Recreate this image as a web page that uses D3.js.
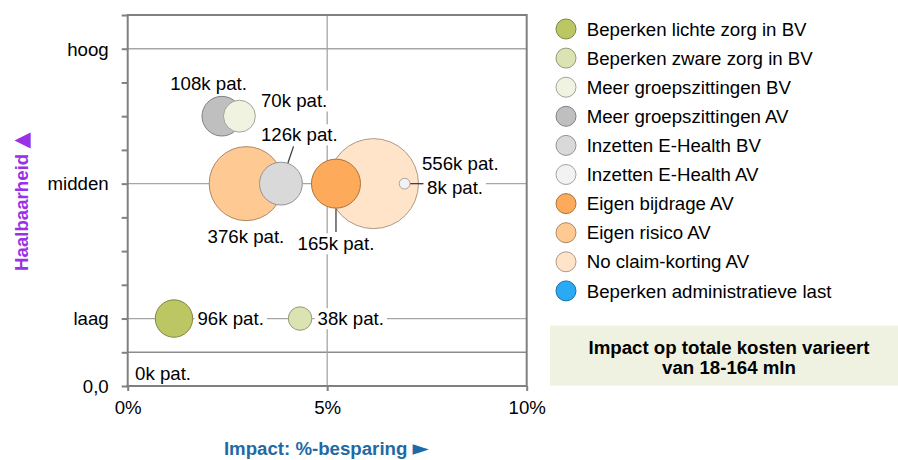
<!DOCTYPE html>
<html>
<head>
<meta charset="utf-8">
<script src="https://cdn.jsdelivr.net/npm/d3@7/dist/d3.min.js"></script>
<style>
  html, body { margin: 0; padding: 0; background: #fff; }
  svg { display: block; font-family: "Liberation Sans", Arial, sans-serif; }
</style>
</head>
<body>
<svg id="chart" width="898" height="460"></svg>
<script>
// Maatregelen, met impact (% besparing), haalbaarheid en aantal patiënten (x1000)
const categories = [
  "Beperken lichte zorg in BV",
  "Beperken zware zorg in BV",
  "Meer groepszittingen BV",
  "Meer groepszittingen AV",
  "Inzetten E-Health BV",
  "Inzetten E-Health AV",
  "Eigen bijdrage AV",
  "Eigen risico AV",
  "No claim-korting AV",
  "Beperken administratieve last"
];
const impactPct   = [1.16, 4.32, 2.80, 2.36, 3.84, 6.94, 5.22, 2.97, 6.16, 0];
const feasibility = [2, 2, 8, 8, 6, 6, 6, 6, 6, 0];
const patientsK   = [96, 38, 70, 108, 126, 8, 165, 376, 556, 0];
const colors = [
  "#BCC764", "#DBE3B3", "#F0F3E1", "#BFBFBF", "#D9D9D9",
  "#F2F2F2", "#FEAA5B", "#FEC992", "#FFE4CA", "#2AA9F5"
];

const xTickValues = [0, 5, 10];
const yTickValues = d3.range(0, 12);
const yTickLabels = { 0: "0,0", 2: "laag", 6: "midden", 10: "hoog" };
const yGridValues = [2, 6, 10];
const ySeparator = 1;
const xGridValues = [5];

const boxLines = ["Impact op totale kosten varieert", "van 18-164 mln"];
const xTitle = ["Impact: %-besparing ", "\u25BA"];
const yTitle = ["Haalbaarheid ", "\u25B2"];

// Plaatsing van de datalabels ten opzichte van het bubbelmiddelpunt
const labelPlacement = [
  { dx: 23.5, dy: 6.7 },
  { dx: 17.5, dy: 6.7 },
  { dx: 21.5, dy: -8.7 },
  { dx: -51.7, dy: -26 },
  { dx: -20, dy: -42.3, leader: [7, -20.6, 12.6, -37.3] },
  { dx: 22.4, dy: 10.7, leader: [5.7, 0, 18.4, 0] },
  { dx: -38.4, dy: 66.7, leader: [0, 25, 0, 48.4] },
  { dx: -38.7, dy: 59 },
  { dx: 48.4, dy: -14 },
  { dx: 7.3, dy: -6 }
];

const FS = 18.67;
const svg = d3.select("#chart");

const plot = { left: 127.7, right: 526.7, top: 15, bottom: 386 };
const x = d3.scaleLinear().domain([0, 10]).range([plot.left, plot.right]);
const y = d3.scaleLinear().domain([0, 11]).range([plot.bottom, plot.top]);
const r = d3.scaleSqrt().domain([0, 556]).range([0, 45]);

const data = categories.map((name, i) => ({
  name, x: impactPct[i], y: feasibility[i], p: patientsK[i], color: colors[i],
  lab: labelPlacement[i]
}));

// Rasterlijnen
const grid = svg.append("g");
grid.selectAll("line.h").data(yGridValues).join("line")
  .attr("x1", plot.left).attr("x2", plot.right)
  .attr("y1", d => y(d)).attr("y2", d => y(d))
  .attr("stroke", "#A6A6A6").attr("stroke-width", 1.3);
grid.append("line")
  .attr("x1", plot.left).attr("x2", plot.right)
  .attr("y1", y(ySeparator)).attr("y2", y(ySeparator))
  .attr("stroke", "#8C8C8C").attr("stroke-width", 1.5);
grid.selectAll("line.v").data(xGridValues).join("line")
  .attr("y1", plot.top).attr("y2", plot.bottom)
  .attr("x1", d => x(d)).attr("x2", d => x(d))
  .attr("stroke", "#A6A6A6").attr("stroke-width", 1.3);

// Bubbels (laatste reeks onderaan)
const bubbles = svg.append("g");
bubbles.selectAll("circle").data(data.slice().reverse()).join("circle")
  .attr("cx", d => x(d.x)).attr("cy", d => y(d.y))
  .attr("r", d => d.p > 0 ? r(d.p) : 1.6)
  .attr("fill", d => d.color)
  .attr("stroke", d => d.p > 0 ? d3.color(d.color).darker(1.1) : "none")
  .attr("stroke-width", 1);

// Kader rond het plotgebied
svg.append("rect")
  .attr("x", plot.left).attr("y", plot.top)
  .attr("width", plot.right - plot.left).attr("height", plot.bottom - plot.top)
  .attr("fill", "none").attr("stroke", "#808080").attr("stroke-width", 2);

// Assen
const yAxis = svg.append("g").attr("transform", `translate(${plot.left},0)`)
  .call(d3.axisLeft(y).tickValues(yTickValues).tickSize(6).tickPadding(13)
    .tickFormat(d => yTickLabels[d] || ""));
const xAxis = svg.append("g").attr("transform", `translate(0,${plot.bottom})`)
  .call(d3.axisBottom(x).tickValues(xTickValues).tickSize(5).tickPadding(10)
    .tickFormat(d => d + "%"));
[yAxis, xAxis].forEach(g => {
  g.select(".domain").remove();
  g.selectAll(".tick line").attr("stroke", "#808080").attr("stroke-width", 2);
  g.selectAll(".tick text").attr("fill", "#000")
    .style("font-size", FS + "px").style("font-family", "Liberation Sans, Arial, sans-serif");
});
yAxis.selectAll(".tick text").attr("dy", "0.34em");

// Verbindingslijnen van labels
const leaders = svg.append("g");
data.filter(d => d.lab.leader).forEach(d => {
  const [a, b, c, e] = d.lab.leader;
  const cx = x(d.x), cy = y(d.y);
  leaders.append("line")
    .attr("x1", cx + a).attr("y1", cy + b).attr("x2", cx + c).attr("y2", cy + e)
    .attr("stroke", "#404040").attr("stroke-width", 1.3);
});

// Datalabels met witte achtergrond
const labels = svg.append("g");
data.forEach(d => {
  const g = labels.append("g");
  const t = g.append("text")
    .attr("x", x(d.x) + d.lab.dx).attr("y", y(d.y) + d.lab.dy)
    .style("font-size", FS + "px").attr("fill", "#000")
    .text(d.p + "k pat.");
  const bb = t.node().getBBox();
  g.insert("rect", "text")
    .attr("x", bb.x - 3).attr("y", bb.y)
    .attr("width", bb.width + 6).attr("height", bb.height)
    .attr("fill", "#fff");
});

// Legenda
const legend = svg.append("g");
const legendRows = legend.selectAll("g").data(data).join("g")
  .attr("transform", (d, i) => `translate(566,${29 + i * 29.1})`);
legendRows.append("circle").attr("r", 10)
  .attr("fill", d => d.color)
  .attr("stroke", d => d3.color(d.color).darker(1.1)).attr("stroke-width", 1);
legendRows.append("text").attr("x", 20.7).attr("y", 6.6)
  .style("font-size", FS + "px").attr("fill", "#000")
  .text(d => d.name);

// Toelichting
svg.append("rect").attr("x", 550).attr("y", 325.7)
  .attr("width", 348).attr("height", 60).attr("fill", "#EFF2E1");
svg.append("g").selectAll("text").data(boxLines).join("text")
  .attr("x", 729).attr("y", (d, i) => 354.3 + i * 19.7)
  .attr("text-anchor", "middle")
  .style("font-size", FS + "px").style("font-weight", "bold").attr("fill", "#000")
  .text(d => d);

// Astitels
const xt = svg.append("text").attr("x", 326.3).attr("y", 455)
  .attr("text-anchor", "middle")
  .style("font-size", FS + "px").style("font-weight", "bold").attr("fill", "#1F6AA6");
xt.append("tspan").text(xTitle[0]);
xt.append("tspan").style("font-family", "DejaVu Sans").style("font-size", "21px")
  .text(xTitle[1]);

const yt = svg.append("text")
  .attr("transform", "translate(28,201.7) rotate(-90)")
  .attr("text-anchor", "middle")
  .style("font-size", FS + "px").style("font-weight", "bold").attr("fill", "#9932E6");
yt.append("tspan").text(yTitle[0]);
yt.append("tspan").style("font-family", "DejaVu Sans").style("font-size", "21px")
  .text(yTitle[1]);
</script>
</body>
</html>
